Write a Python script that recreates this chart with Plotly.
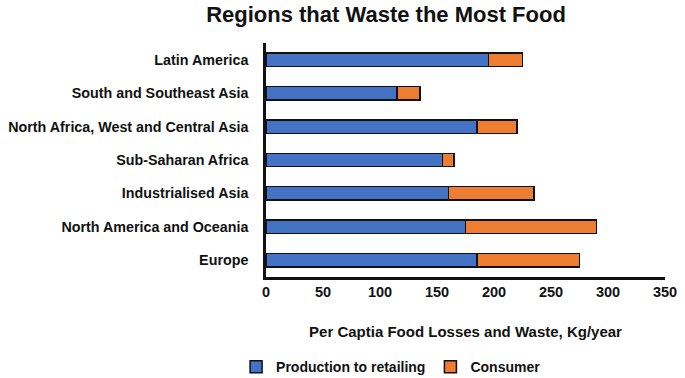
import plotly.graph_objects as go

regions = ["Latin America", "South and Southeast Asia", "North Africa, West and Central Asia",
           "Sub-Saharan Africa", "Industrialised Asia", "North America and Oceania", "Europe"]
production = [195, 115, 185, 155, 160, 175, 185]
consumer = [30, 20, 35, 10, 75, 115, 90]
x_ticks = [0, 50, 100, 150, 200, 250, 300, 350]
series_names = ["Production to retailing", "Consumer"]

FONT = "Liberation Sans, Arial, sans-serif"

fig = go.Figure()
fig.add_trace(go.Bar(y=regions, x=production, orientation="h", name=f"<b>{series_names[0]}</b>",
                     marker=dict(color="#4472C4", line=dict(color="#111111", width=1.5))))
fig.add_trace(go.Bar(y=regions, x=consumer, orientation="h", name=f"<b>{series_names[1]}</b>",
                     marker=dict(color="#ED7D31", line=dict(color="#111111", width=1.5))))

fig.update_layout(
    barmode="stack",
    bargap=0.6,
    width=685, height=378,
    margin=dict(l=266, r=20, t=43, b=101, autoexpand=False),
    paper_bgcolor="white", plot_bgcolor="white",
    font=dict(family=FONT, color="#111111", size=14),
    title=dict(text="<b>Regions that Waste the Most Food</b>", x=386/685, xanchor="center",
               y=1 - 14/378, yanchor="middle", font=dict(size=22, family=FONT, color="#111111")),
    legend=dict(orientation="h", x=-0.075, xanchor="left", y=-0.385, yanchor="middle",
                font=dict(size=14, family=FONT), traceorder="normal", itemwidth=30),
    showlegend=True,
)
fig.update_xaxes(range=[0, 350], tickvals=x_ticks, ticktext=[f"<b>{v}</b>" for v in x_ticks],
                 showgrid=False, zeroline=False, showline=True, linecolor="#111111", linewidth=2.5,
                 ticks="", tickfont=dict(size=14.5), automargin=False,
                 title=dict(text="<b>Per Captia Food Losses and Waste, Kg/year</b>", standoff=28,
                            font=dict(size=15)))
fig.update_yaxes(categoryorder="array", categoryarray=regions[::-1],
                 tickvals=regions, ticktext=[f"<b>{r}</b>" for r in regions],
                 showgrid=False, zeroline=False, showline=True, linecolor="#111111", linewidth=2.5,
                 ticks="", ticklabelstandoff=12, tickfont=dict(size=14.3), automargin=False)

fig.write_html("out.html", config={"displayModeBar": False},
               post_script="document.body.style.margin='0px';document.body.style.overflow='hidden';")
